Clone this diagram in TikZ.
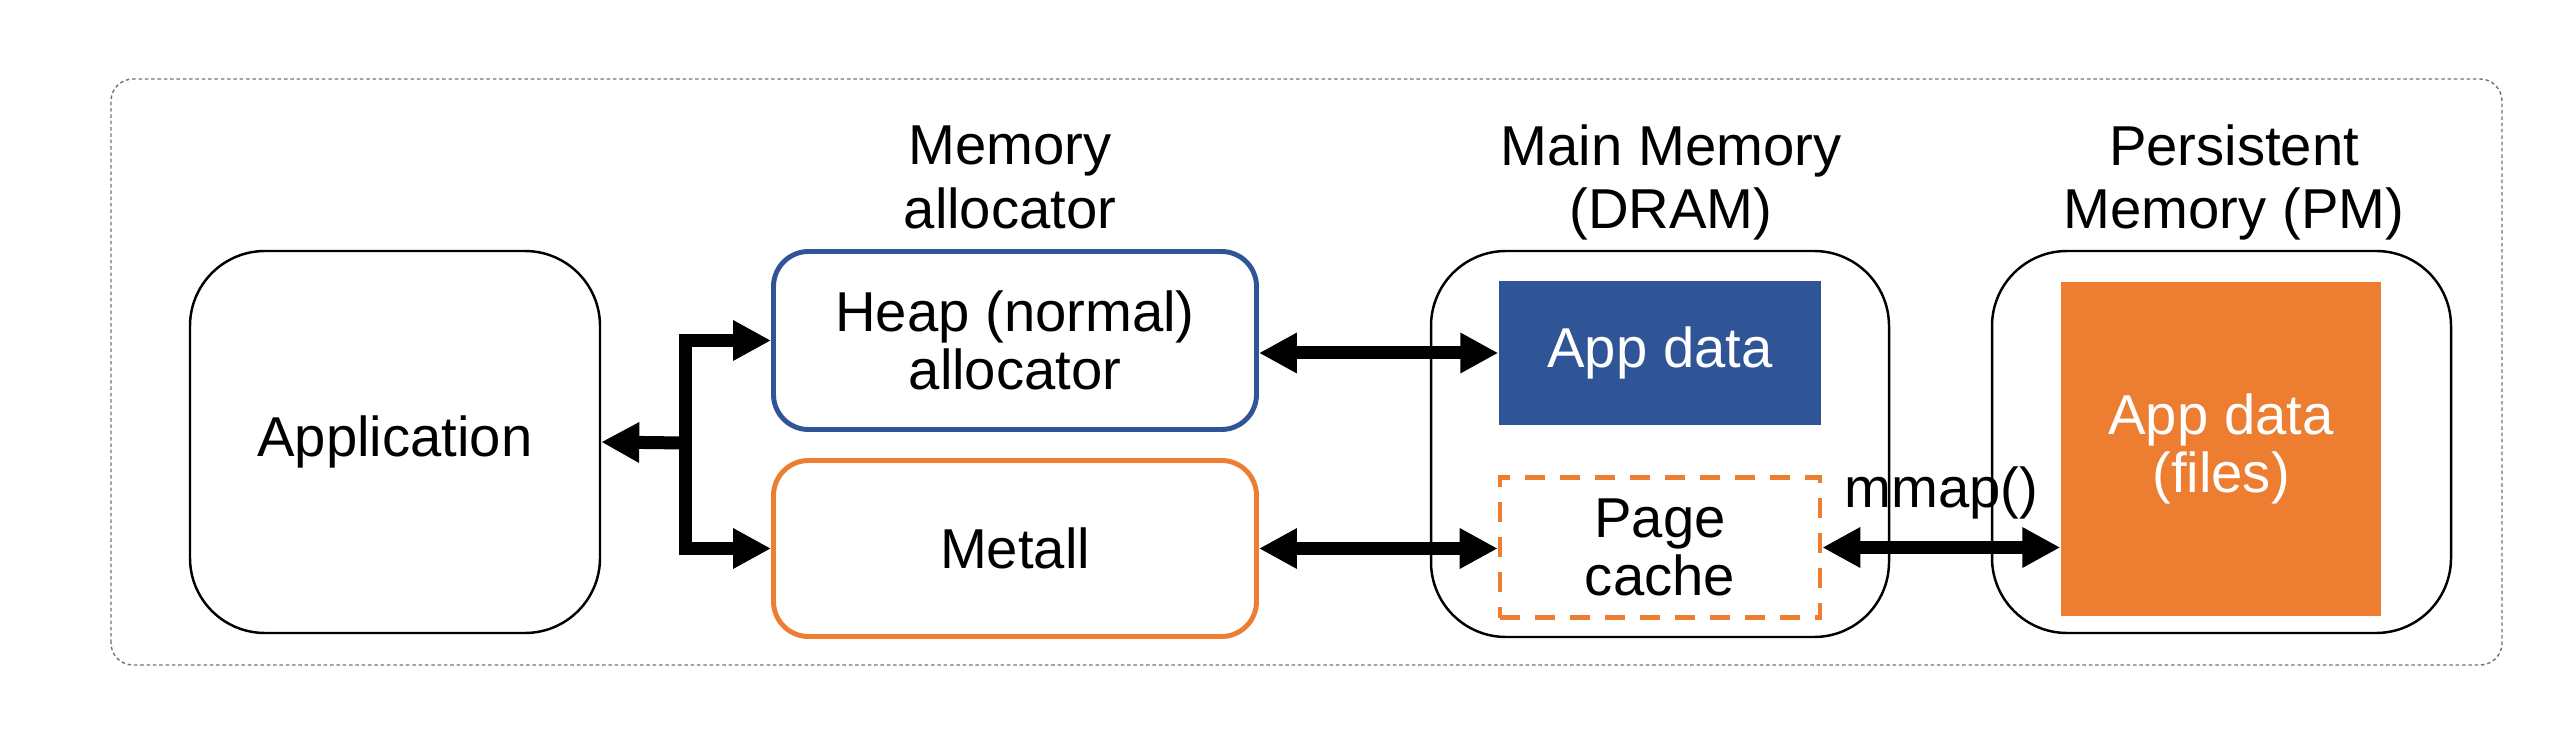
\documentclass[tikz,border=0pt]{standalone}
\usepackage{fontspec}
\setmainfont{Liberation Sans}
\usetikzlibrary{arrows.meta}
\definecolor{mblue}{HTML}{2F5597}
\definecolor{morange}{HTML}{ED7D31}

\begin{document}
\begin{tikzpicture}[
  txt/.style={align=center, font=\fontsize{16}{16.5}\selectfont},
  tallbox/.style={txt, draw, rounded corners=0.75cm, line width=0.7pt},
  allocbox/.style={txt, draw, rounded corners=0.35cm, line width=1.4pt, minimum width=4.83cm},
  datablk/.style={txt, text=white, inner sep=0pt},
  title/.style={align=center, font=\fontsize{16}{18}\selectfont},
  frame/.style={draw=black!55, line width=0.4pt, dash pattern=on 1pt off 0.8pt, rounded corners=0.22cm},
  bus/.style={line width=0.13cm, line join=miter, {Triangle[length=0.38cm,width=0.38cm]}-{Triangle[length=0.38cm,width=0.38cm]}},
  busone/.style={line width=0.13cm, -{Triangle[length=0.38cm,width=0.38cm]}}
]
\useasboundingbox (0,0) rectangle (25.72,7.33);
\draw[frame] (1.11,0.68) rectangle (25.02,6.54);

% column titles
\node[title] (alloclbl) at (10.10,5.555) {Memory\\allocator};
\node[title] (dramlbl) at (16.71,5.505) {Main Memory\\(DRAM)};
\node[title] (pmlbl) at (22.34,5.505) {Persistent\\Memory (PM)};

% boxes
\node[tallbox, minimum width=4.10cm, minimum height=3.82cm] (app) at (3.95,2.91) {Application};
\node[allocbox, draw=mblue, minimum height=1.78cm] (heap) at (10.15,3.925) {Heap (normal)\\allocator};
\node[allocbox, draw=morange, minimum height=1.76cm] (metall) at (10.15,1.845) {Metall};
\node[tallbox, minimum width=4.58cm, minimum height=3.86cm] (dram) at (16.60,2.89) {};
\node[datablk, fill=mblue, minimum width=3.22cm, minimum height=1.44cm] (dramdata) at (16.60,3.80) {App data};
\node[txt, draw=morange, line width=1.3pt, dash pattern=on 0.2cm off 0.15cm, minimum width=3.20cm, minimum height=1.40cm] (pagecache) at (16.60,1.855) {Page\\cache};
\node[tallbox, minimum width=4.59cm, minimum height=3.82cm] (pm) at (22.215,2.91) {};
\node[datablk, fill=morange, minimum width=3.20cm, minimum height=3.34cm] (pmdata) at (22.21,2.84) {App data\\(files)};

% connectors
\coordinate (fork) at (6.85,2.90);
\draw[bus] (heap.west) -| (fork) |- (metall.west);
\draw[busone] (fork) -- (app.east);
\draw[bus] (heap.east |- dramdata.west) -- (dramdata.west);
\draw[bus] (metall.east) -- (metall.east -| pagecache.west);
\draw[bus] (pagecache.east) -- (pagecache.east -| pmdata.west)
  node[midway, above=3pt, txt] (mmap) {mmap()};
\end{tikzpicture}
\end{document}
